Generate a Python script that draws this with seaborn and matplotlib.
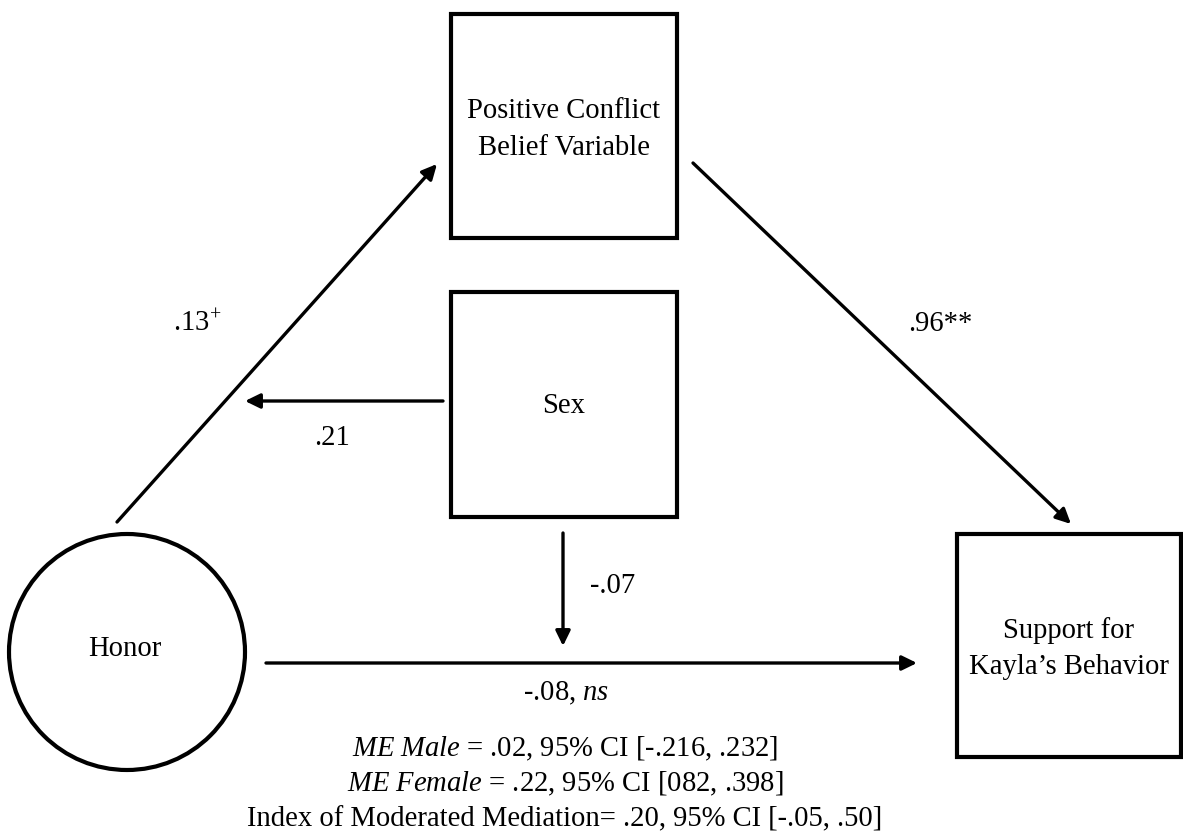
import matplotlib
matplotlib.use("Agg")
import matplotlib.pyplot as plt
from matplotlib.patches import Rectangle, Circle, FancyArrowPatch
import seaborn as sns

# ---- data (text content of the path diagram) ----
node_labels = {
    "mediator": "Positive Conflict\nBelief Variable",
    "moderator": "Sex",
    "predictor": "Honor",
    "outcome": "Support for\nKayla\u2019s Behavior",
}
path_a = r".13$^{+}$"
path_b = ".96**"
path_mod_a = ".21"
path_mod_c = "-.07"
path_c = r"-.08, $\mathit{ns}$"
summary_lines = [
    r"$\mathit{ME\ Male}$ = .02, 95% CI [-.216, .232]",
    r"$\mathit{ME\ Female}$ = .22, 95% CI [082, .398]",
    "Index of Moderated Mediation= .20, 95% CI [-.05, .50]",
]

# ---- style ----
sns.set_theme(style="white")
plt.rcParams["font.family"] = ["Liberation Serif", "DejaVu Serif"]
plt.rcParams["mathtext.fontset"] = "custom"
plt.rcParams["mathtext.rm"] = "Liberation Serif"
plt.rcParams["mathtext.it"] = "Liberation Serif:italic"

W, H = 1183, 835
fig = plt.figure(figsize=(W / 100, H / 100), dpi=100)
ax = fig.add_axes([0, 0, 1, 1])
ax.set_xlim(0, W)
ax.set_ylim(H, 0)
ax.axis("off")
sns.despine(ax=ax, left=True, bottom=True)

FS = 20.6
BOX_LW = 3.0
ARR_LW = 2.4

def box(x0, y0, x1, y1):
    ax.add_patch(Rectangle((x0, y0), x1 - x0, y1 - y0, fill=False,
                           edgecolor="black", lw=BOX_LW))

def arrow(p0, p1):
    ax.add_patch(FancyArrowPatch(p0, p1, arrowstyle="-|>,head_length=0.45,head_width=0.22",
                                 mutation_scale=20, lw=ARR_LW, color="black",
                                 shrinkA=0, shrinkB=0))

def label(x, y, s, size=FS, **kw):
    ax.text(x, y, s, fontsize=size, ha="center", va="center", color="black", **kw)

# nodes
box(451, 14, 677, 238)
label(564, 111, node_labels["mediator"].split("\n")[0])
label(564, 148, node_labels["mediator"].split("\n")[1])

box(451, 292, 677, 517)
label(564, 406, node_labels["moderator"])

box(957, 534, 1181, 757)
label(1069, 631, node_labels["outcome"].split("\n")[0])
label(1069, 667, node_labels["outcome"].split("\n")[1])

ax.add_patch(Circle((127, 652), 118, fill=False, edgecolor="black", lw=BOX_LW))
label(125, 649, node_labels["predictor"])

# paths
arrow((117, 522), (437, 164))
arrow((693, 163), (1071, 524))
arrow((443, 401), (245, 401))
arrow((563, 533), (563, 646))
arrow((266, 663), (917, 663))

# path labels
label(197, 324, path_a)
label(940, 324, path_b)
label(332, 438, path_mod_a)
label(613, 586, path_mod_c)
label(566, 693, path_c)

for i, s in enumerate(summary_lines):
    label(565, 749 + 35 * i, s)

fig.savefig("out.png", dpi=100, facecolor="white")
